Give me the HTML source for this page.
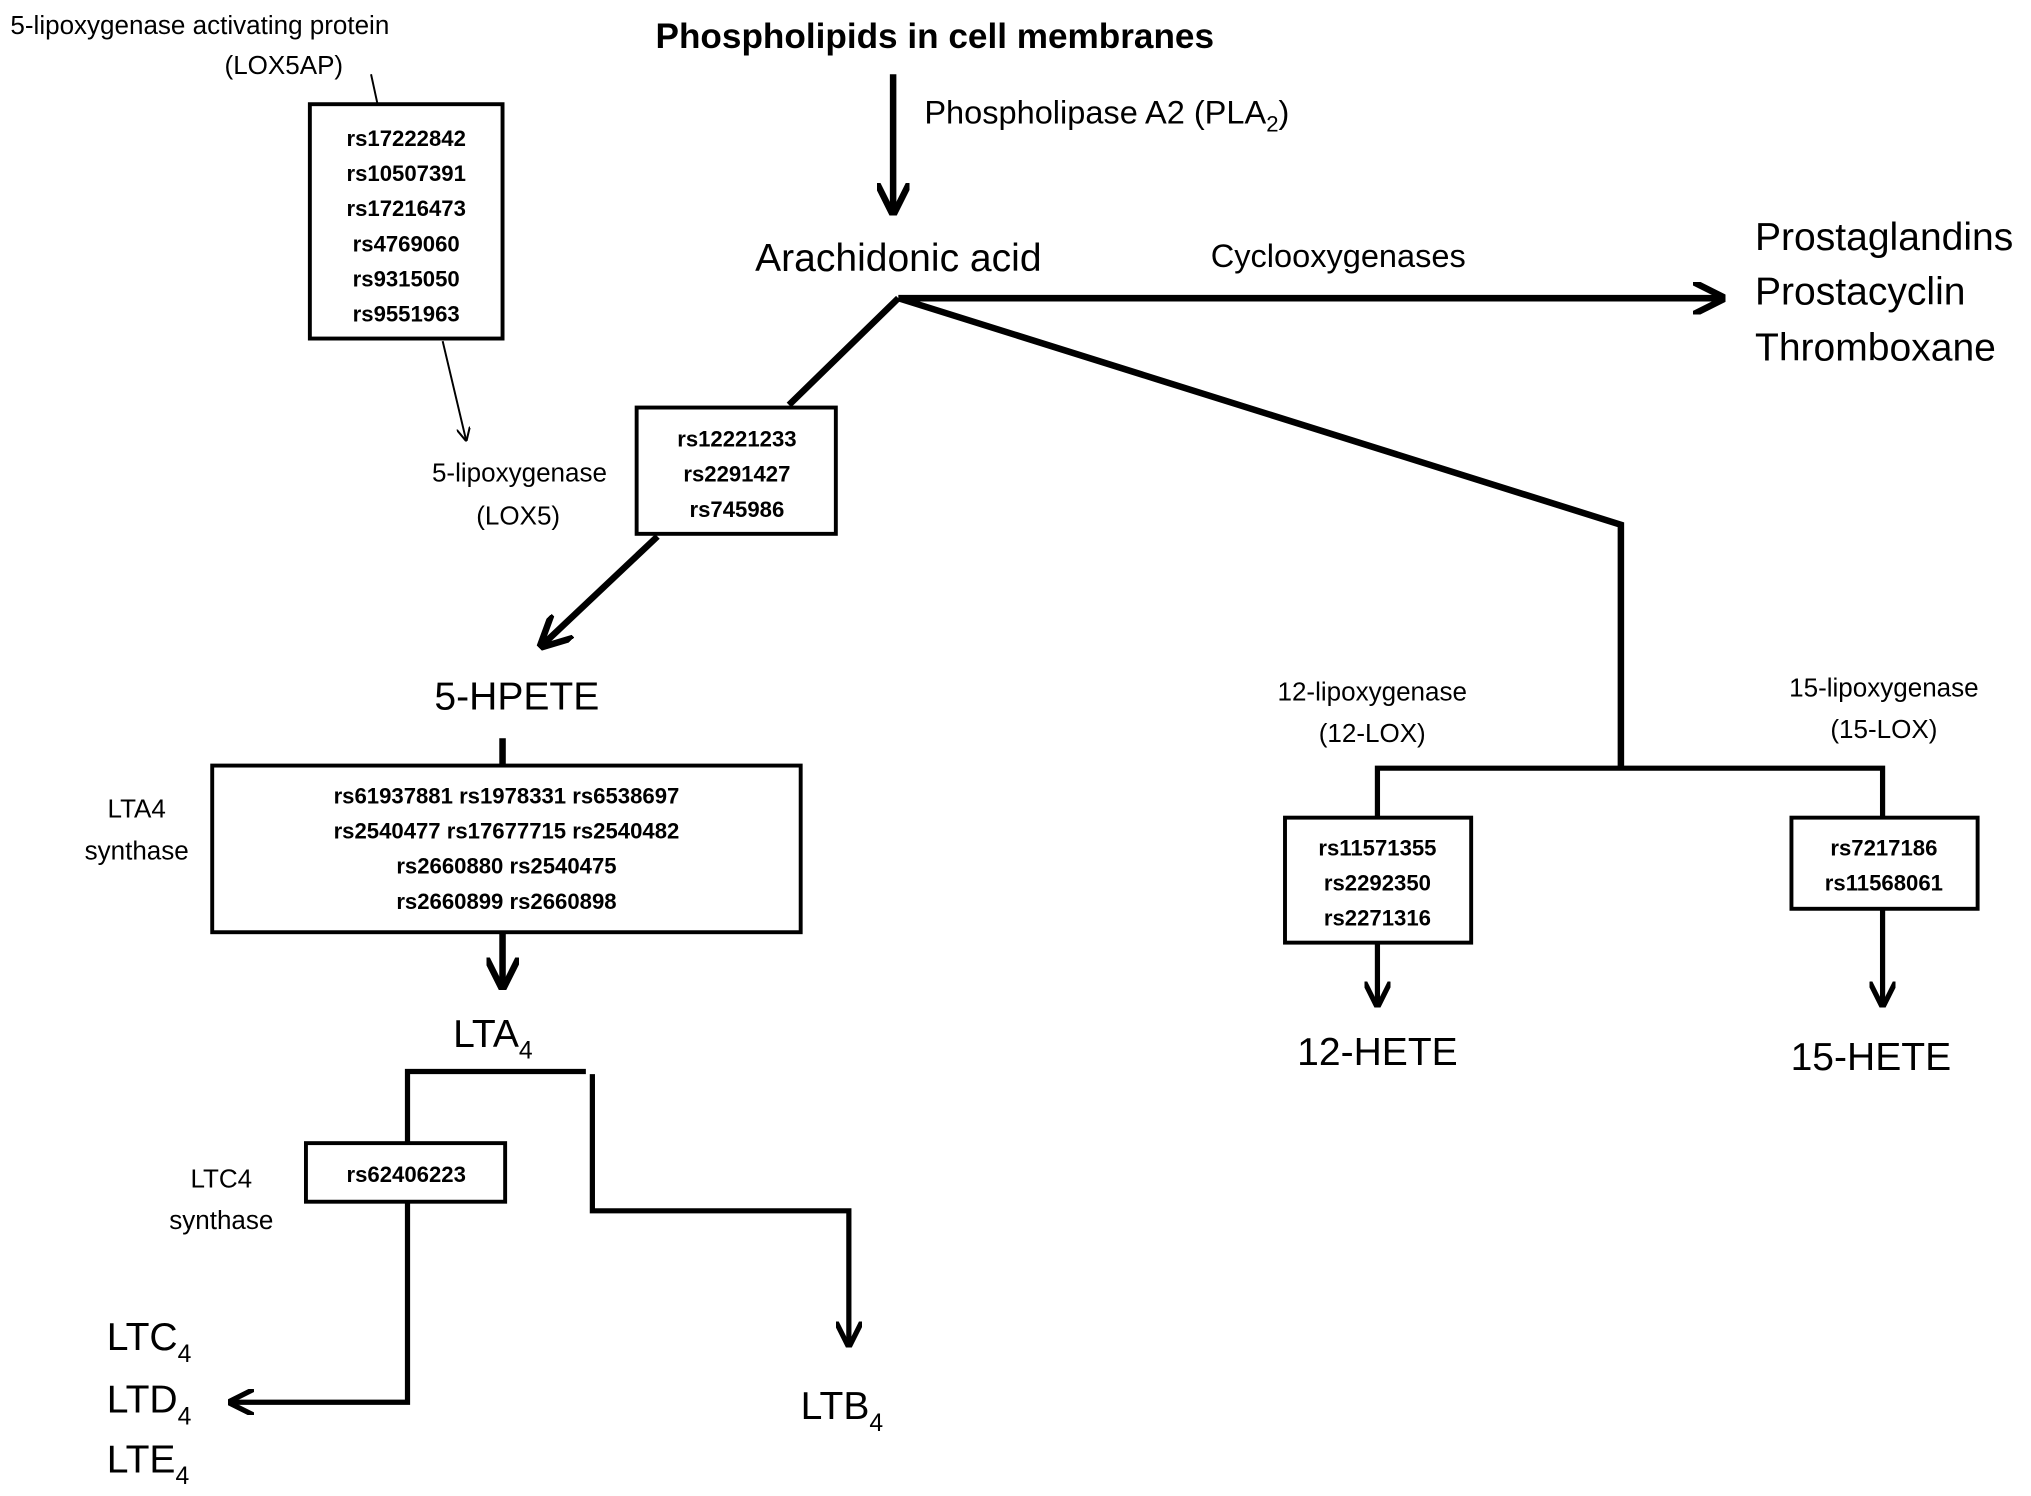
<!DOCTYPE html>
<html><head><meta charset="utf-8"><style>
html,body{margin:0;padding:0;background:#fff;}
svg{display:block;}
text{font-family:"Liberation Sans",sans-serif;fill:#000;}
.b{font-weight:bold;font-size:17px;}
.s{font-size:20px;}
.m{font-size:25px;}
.l{font-size:30px;}
</style></head><body>
<svg width="2031" height="1496" viewBox="0 0 1560 1149" xmlns="http://www.w3.org/2000/svg">
<defs>
<marker id="ah" viewBox="0 0 10 10" refX="9" refY="5" markerWidth="5" markerHeight="5" orient="auto" markerUnits="strokeWidth"><path d="M0,0 L10,5 L0,10" fill="none" stroke="#000" stroke-width="2"/></marker>
<marker id="ah2" viewBox="0 0 10 10" refX="9" refY="5" markerWidth="7" markerHeight="7" orient="auto" markerUnits="strokeWidth"><path d="M0,0 L10,5 L0,10" fill="none" stroke="#000" stroke-width="1.5"/></marker>
</defs>
<g stroke="#000" fill="none">
<line x1="686" y1="57" x2="686" y2="163" stroke-width="5" marker-end="url(#ah)"/>
<line x1="690" y1="229" x2="1323" y2="229" stroke-width="5" marker-end="url(#ah)"/>
<line x1="690" y1="229" x2="606" y2="311" stroke-width="5"/>
<line x1="505" y1="412" x2="416" y2="496" stroke-width="5" marker-end="url(#ah)"/>
<line x1="285" y1="57" x2="290" y2="80" stroke-width="1.5"/>
<line x1="340" y1="262" x2="358" y2="338" stroke-width="1.5" marker-end="url(#ah2)"/>
<line x1="386" y1="567" x2="386" y2="589" stroke-width="5"/>
<line x1="386" y1="716" x2="386" y2="758" stroke-width="5" marker-end="url(#ah)"/>
<polyline points="313,878 313,823 450,823" stroke-width="4"/>
<polyline points="455,825 455,930 652,930 652,1033" stroke-width="4" marker-end="url(#ah)"/>
<polyline points="313,923 313,1077 177,1077" stroke-width="4" marker-end="url(#ah)"/>
<polyline points="690,229 1245,403 1245,590" stroke-width="5"/>
<polyline points="1058,628 1058,590 1446,590 1446,628" stroke-width="4"/>
<line x1="1058" y1="724" x2="1058" y2="772" stroke-width="4" marker-end="url(#ah)"/>
<line x1="1446" y1="698" x2="1446" y2="772" stroke-width="4" marker-end="url(#ah)"/>
<g stroke-width="3" fill="#fff">
<rect x="238" y="80" width="148" height="180"/>
<rect x="489" y="313" width="153" height="97"/>
<rect x="163" y="588" width="452" height="128"/>
<rect x="235" y="878" width="153" height="45"/>
<rect x="987" y="628" width="143" height="96"/>
<rect x="1376" y="628" width="143" height="70"/>
</g>
</g>
<text x="718" y="37" text-anchor="middle" font-weight="bold" font-size="27">Phospholipids in cell membranes</text>
<text x="710" y="95" class="m">Phospholipase A2 (PLA<tspan font-size="17" dy="6">2</tspan><tspan dy="-6">)</tspan></text>
<text x="690" y="208" text-anchor="middle" class="l" font-size="28">Arachidonic acid</text>
<text x="930" y="205" class="m">Cyclooxygenases</text>
<text x="1348" y="192" class="l" font-size="28">Prostaglandins</text>
<text x="1348" y="234" class="l" font-size="28">Prostacyclin</text>
<text x="1348" y="277" class="l" font-size="28">Thromboxane</text>
<text x="8" y="26" class="s">5-lipoxygenase activating protein</text>
<text x="218" y="57" text-anchor="middle" class="s">(LOX5AP)</text>
<g class="b" text-anchor="middle">
<text x="312" y="112">rs17222842</text><text x="312" y="139">rs10507391</text><text x="312" y="166">rs17216473</text>
<text x="312" y="193">rs4769060</text><text x="312" y="220">rs9315050</text><text x="312" y="247">rs9551963</text>
<text x="566" y="343">rs12221233</text><text x="566" y="370">rs2291427</text><text x="566" y="397">rs745986</text>
<text x="389" y="617">rs61937881 rs1978331  rs6538697</text>
<text x="389" y="644">rs2540477 rs17677715  rs2540482</text>
<text x="389" y="671">rs2660880  rs2540475</text>
<text x="389" y="698">rs2660899  rs2660898</text>
<text x="312" y="908">rs62406223</text>
<text x="1058" y="657">rs11571355</text><text x="1058" y="684">rs2292350</text><text x="1058" y="711">rs2271316</text>
<text x="1447" y="657">rs7217186</text><text x="1447" y="684">rs11568061</text>
</g>
<text x="399" y="370" text-anchor="middle" class="s">5-lipoxygenase</text>
<text x="398" y="403" text-anchor="middle" class="s">(LOX5)</text>
<text x="397" y="545" text-anchor="middle" class="l">5-HPETE</text>
<text x="105" y="628" text-anchor="middle" class="s">LTA4</text>
<text x="105" y="660" text-anchor="middle" class="s">synthase</text>
<text x="348" y="804" class="l">LTA<tspan font-size="19" dy="9">4</tspan></text>
<text x="170" y="912" text-anchor="middle" class="s">LTC4</text>
<text x="170" y="944" text-anchor="middle" class="s">synthase</text>
<text x="82" y="1037" class="l">LTC<tspan font-size="19" dy="9">4</tspan></text>
<text x="82" y="1085" class="l">LTD<tspan font-size="19" dy="9">4</tspan></text>
<text x="82" y="1131" class="l">LTE<tspan font-size="19" dy="9">4</tspan></text>
<text x="615" y="1090" class="l">LTB<tspan font-size="19" dy="9">4</tspan></text>
<text x="1054" y="538" text-anchor="middle" class="s">12-lipoxygenase</text>
<text x="1054" y="570" text-anchor="middle" class="s">(12-LOX)</text>
<text x="1447" y="535" text-anchor="middle" class="s">15-lipoxygenase</text>
<text x="1447" y="567" text-anchor="middle" class="s">(15-LOX)</text>
<text x="1058" y="818" text-anchor="middle" class="l">12-HETE</text>
<text x="1437" y="822" text-anchor="middle" class="l">15-HETE</text>
</svg>
</body></html>
